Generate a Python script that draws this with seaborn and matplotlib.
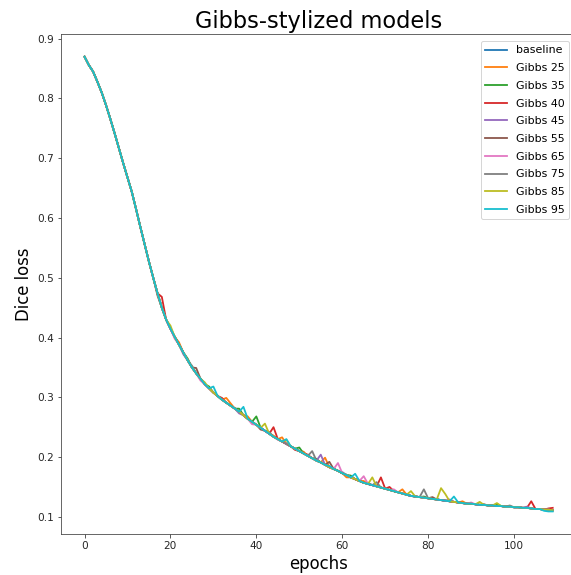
import numpy as np
import pandas as pd
import seaborn as sns
import matplotlib
matplotlib.use("Agg")
import matplotlib.pyplot as plt

#### data

epochs = list(range(110))

baseline = [
    0.870, 0.856, 0.845, 0.828, 0.810, 0.789, 0.766, 0.742, 0.717, 0.692,
    0.668, 0.644, 0.615, 0.585, 0.556, 0.527, 0.500, 0.474, 0.450, 0.430,
    0.415, 0.401, 0.388, 0.375, 0.362, 0.350, 0.340, 0.331, 0.322, 0.315,
    0.308, 0.302, 0.296, 0.291, 0.286, 0.281, 0.276, 0.270, 0.264, 0.259,
    0.254, 0.249, 0.244, 0.239, 0.234, 0.230, 0.226, 0.222, 0.218, 0.214,
    0.210, 0.206, 0.202, 0.198, 0.194, 0.191, 0.187, 0.183, 0.180, 0.177,
    0.173, 0.170, 0.166, 0.163, 0.160, 0.157, 0.155, 0.153, 0.151, 0.149,
    0.147, 0.145, 0.143, 0.141, 0.139, 0.137, 0.135, 0.134, 0.133, 0.132,
    0.131, 0.130, 0.129, 0.128, 0.127, 0.126, 0.125, 0.124, 0.123, 0.122,
    0.122, 0.121, 0.120, 0.120, 0.119, 0.119, 0.118, 0.118, 0.117, 0.117,
    0.116, 0.116, 0.115, 0.115, 0.114, 0.113, 0.113, 0.112, 0.112, 0.111,
]

# epochs where a stylized run visibly leaves the common curve
gibbs25 = {22: 0.392, 33: 0.299, 34: 0.290, 38: 0.268, 44: 0.236, 46: 0.233,
           51: 0.209, 56: 0.199, 61: 0.166, 65: 0.160, 74: 0.146, 88: 0.126}
gibbs35 = {24: 0.365, 29: 0.318, 36: 0.281, 40: 0.268, 50: 0.216, 54: 0.197,
           58: 0.181, 62: 0.169, 79: 0.134, 96: 0.121}
gibbs40 = {18: 0.468, 32: 0.299, 44: 0.250, 49: 0.212, 52: 0.204, 69: 0.166,
           71: 0.150, 104: 0.126, 108: 0.114, 109: 0.115}
gibbs45 = {23: 0.372, 36: 0.273, 48: 0.218, 55: 0.204, 60: 0.175, 66: 0.156,
           85: 0.129, 103: 0.117}
gibbs55 = {17: 0.470, 26: 0.349, 31: 0.303, 41: 0.246, 57: 0.192, 64: 0.160,
           81: 0.133, 93: 0.121}
gibbs65 = {21: 0.398, 27: 0.328, 39: 0.255, 45: 0.229, 59: 0.190, 65: 0.168,
           72: 0.146, 90: 0.124}
gibbs75 = {25: 0.353, 35: 0.282, 43: 0.242, 53: 0.210, 68: 0.158, 79: 0.146,
           99: 0.119}
gibbs85 = {20: 0.420, 28: 0.325, 42: 0.256, 47: 0.229, 67: 0.166, 76: 0.143,
           83: 0.148, 84: 0.138, 92: 0.125, 96: 0.123}
gibbs95 = {30: 0.318, 37: 0.284, 47: 0.230, 57: 0.185, 63: 0.172, 86: 0.134,
           107: 0.110, 108: 0.109, 109: 0.109}

labels = ["baseline", "Gibbs 25", "Gibbs 35", "Gibbs 40", "Gibbs 45",
          "Gibbs 55", "Gibbs 65", "Gibbs 75", "Gibbs 85", "Gibbs 95"]
overrides = [{}, gibbs25, gibbs35, gibbs40, gibbs45,
             gibbs55, gibbs65, gibbs75, gibbs85, gibbs95]

rows = []
for name, spikes in zip(labels, overrides):
    for e in epochs:
        rows.append((name, e, spikes.get(e, baseline[e])))
df = pd.DataFrame(rows, columns=["model", "epoch", "loss"])

#### plot

fig = plt.figure(figsize=(571 / 72, 575 / 72), dpi=72)
ax = fig.add_axes([0.107, 0.071, 0.902, 0.870])
sns.lineplot(data=df, x="epoch", y="loss", hue="model", hue_order=labels,
             palette="tab10", linewidth=1.8, ax=ax)
ax.set_title("Gibbs-stylized models", fontsize=22.5)
ax.set_xlabel("epochs", fontsize=16.5)
ax.set_ylabel("Dice loss", fontsize=16.5)
ax.set_xticks([0, 20, 40, 60, 80, 100])
ax.set_yticks([0.1, 0.2, 0.3, 0.4, 0.5, 0.6, 0.7, 0.8, 0.9])
ax.tick_params(labelsize=10.5, color="#333333", labelcolor="#262626")
for s in ax.spines.values():
    s.set_color("#444444")
ax.spines["right"].set_visible(False)  # falls outside the cropped picture
ax.legend(loc="upper right", fontsize=11, labelspacing=0.7, borderaxespad=0.65,
          handlelength=2.0)
fig.savefig("out.png", dpi=72)
